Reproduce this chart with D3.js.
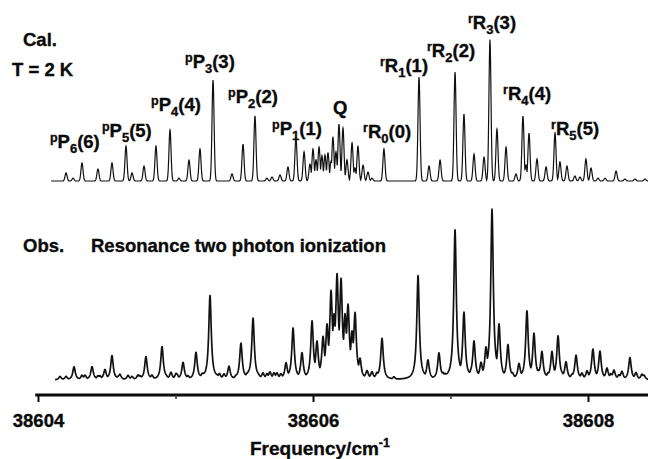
<!DOCTYPE html>
<html>
  <head>
    <meta charset="utf-8" />
    <title>Cal. vs Obs. spectrum</title>
    <style>
      body {
        margin: 0;
        background: #fff;
      }
      svg {
        display: block;
      }
      text {
        font-family: "Liberation Sans", Arial, sans-serif;
        font-weight: bold;
        fill: #0a0a0a;
        stroke: #0a0a0a;
        stroke-width: 0.35px;
      }
    </style>
    <script src="https://d3js.org/d3.v7.min.js"></script>
  </head>
  <body>
    <svg id="chart" width="648" height="459"></svg>
    <script>
      // calculated lines (T = 2 K), frequency in cm-1 and relative intensity
      const calFreq = [
        38604.204, 38604.255, 38604.320, 38604.436, 38604.538, 38604.640, 38604.684, 38604.771,
        38604.858, 38604.960, 38605.025, 38605.098, 38605.178, 38605.273, 38605.411, 38605.491,
        38605.578, 38605.665, 38605.702, 38605.760, 38605.818, 38605.876, 38605.935, 38605.978,
        38606.000, 38606.022, 38606.044, 38606.065, 38606.087, 38606.109, 38606.131, 38606.145,
        38606.167, 38606.189, 38606.218, 38606.247, 38606.284, 38606.305, 38606.327, 38606.364,
        38606.400, 38606.429, 38606.516, 38606.771, 38606.844, 38606.924, 38607.033, 38607.098,
        38607.171, 38607.244, 38607.287, 38607.338, 38607.404, 38607.476, 38607.527, 38607.549,
        38607.571, 38607.629, 38607.695, 38607.760, 38607.796, 38607.847, 38607.905, 38607.942,
        38607.985, 38608.022, 38608.073, 38608.124, 38608.204, 38608.269, 38608.342, 38608.415
      ];
      const calInt = [
        5.7, 2, 12.8, 8.5, 12.8, 24.8, 5.7, 10.6,
        24.8, 36.2, 2, 14.9, 22.7, 71.6, 5, 26.2,
        46.1, 2, 2.8, 4.3, 9.9, 30.5, 20.6, 12,
        22.7, 15, 24.1, 18, 18.4, 20, 14, 31.2,
        20.6, 40.4, 37.6, 14.9, 27, 9.2, 24.8, 11.3,
        6.4, 2, 22.7, 73.8, 10.6, 14.9, 77.3, 47.5,
        19.1, 17, 100, 36.9, 24.1, 5, 46.1, 11.3,
        34, 15.6, 9.9, 34, 13.5, 10.6, 3.5, 2.8,
        15.6, 9.2, 2, 2, 7.1, 1.4, 1.4, 1.4
      ];

      const obsFreq = [
        38604.262, 38604.393, 38604.487, 38604.538, 38604.684, 38604.785, 38604.902, 38604.967,
        38605.055, 38605.149, 38605.251, 38605.389, 38605.476, 38605.564, 38605.636, 38605.687,
        38605.738, 38605.804, 38605.855, 38605.920, 38605.993, 38606.029, 38606.073, 38606.102,
        38606.131, 38606.153, 38606.175, 38606.204, 38606.233, 38606.255, 38606.284, 38606.306,
        38606.342, 38606.393, 38606.429, 38606.465, 38606.502, 38606.764, 38606.836, 38606.916,
        38607.033, 38607.098, 38607.171, 38607.222, 38607.258, 38607.302, 38607.353, 38607.418,
        38607.498, 38607.556, 38607.607, 38607.665, 38607.738, 38607.782, 38607.840, 38607.913,
        38607.993, 38608.036, 38608.087, 38608.138, 38608.189, 38608.247, 38608.305, 38608.349,
        38604.160, 38604.320, 38604.451, 38604.596, 38604.727, 38605.004, 38605.193, 38605.320,
        38605.531, 38605.600, 38606.589, 38606.945, 38607.149, 38607.451, 38607.640, 38607.811,
        38607.956, 38608.167, 38608.225, 38608.392,
        38604.204, 38604.342, 38604.436, 38604.582, 38604.655, 38604.742, 38604.829, 38604.931,
        38605.011, 38605.091, 38605.200, 38605.302, 38605.353, 38605.440, 38605.520, 38605.665,
        38605.716, 38605.767, 38606.960, 38607.709, 38607.884, 38608.029, 38608.407
      ];
      const obsInt = [
        7.7, 7.7, 5.9, 14.2, 1.8, 13.6, 19.5, 4.1,
        10.1, 16, 49.7, 7.7, 21.3, 36.1, 3.5, 4.1,
        3.5, 9.5, 30.2, 15.4, 33.7, 21, 23, 29,
        48, 31, 57, 55, 33, 40, 24, 37,
        11, 4.7, 4.1, 3.5, 24.3, 61.5, 11.2, 15.4,
        88.2, 39, 21.9, 8.9, 17.2, 100, 31.4, 20.1,
        8.9, 40.2, 26.6, 16, 16, 25.4, 10.1, 14.2,
        4.7, 17.2, 16.6, 6.5, 5.3, 4.7, 13, 4.1,
        2, 2.5, 2, 3, 2.5, 3, 2.5, 3,
        3, 2.5, 1.5, 3, 4, 3, 4, 3,
        3.5, 3, 2.5, 3,
        2, 2.5, 2, 1.5, 2.5, 2, 2.5, 2,
        2.5, 2, 2.5, 2, 3, 2, 2.5, 3,
        3.5, 3, 2.5, 3, 2.5, 3, 2.5
      ];

      // branch labels
      const labelSup = ["p", "p", "p", "p", "p", "p", "", "r", "r", "r", "r", "r", "r"];
      const labelMain = ["P", "P", "P", "P", "P", "P", "Q", "R", "R", "R", "R", "R", "R"];
      const labelSub = ["6", "5", "4", "3", "2", "1", "", "0", "1", "2", "3", "4", "5"];
      const labelJ = ["(6)", "(5)", "(4)", "(3)", "(2)", "(1)", "", "(0)", "(1)", "(2)", "(3)", "(4)", "(5)"];
      const labelFreq = [
        38604.087, 38604.465, 38604.822, 38605.069, 38605.382, 38605.702, 38606.145,
        38606.364, 38606.487, 38606.829, 38607.127, 38607.382, 38607.731
      ];
      const labelLevel = [23.4, 31.2, 49.6, 80.1, 55.3, 32.6, 47.5, 30.5, 77.3, 87.9, 107.8, 57.4, 32.6];

      const majorTicks = [38604, 38606, 38608];
      const minorTicks = [38605, 38607];
      const axisStart = 38603.98, axisEnd = 38608.45;
      const calStart = 38604.095, obsStart = 38604.124;

      const svg = d3.select("#chart");

      const x = d3.scaleLinear().domain([38604, 38608]).range([38, 588]);
      const yCal = d3.scaleLinear().domain([0, 100]).range([181, 40]);
      const yObs = d3.scaleLinear().domain([0, 100]).range([380, 211]);

      // line shapes: narrow gaussian for the calculation, lorentzian for the experiment
      // overlap = share of the neighbouring lines' wings added on top of the strongest line
      function profile(freqs, ints, start, end, shape, overlap) {
        let pts = d3.range(start, end, 0.002).concat(freqs.filter(f => f > start && f < end));
        pts.sort((a, b) => a - b);
        return pts.map(f => {
          let mx = 0, sum = 0;
          for (let i = 0; i < freqs.length; i++) {
            const v = ints[i] * shape(f - freqs[i]);
            sum += v;
            if (v > mx) mx = v;
          }
          return [f, mx + overlap * (sum - mx)];
        });
      }
      const gauss = d => Math.exp(-0.5 * (d / 0.0075) * (d / 0.0075));
      const lorentz = d => 1 / (1 + (d / 0.011) * (d / 0.011));

      const calData = profile(calFreq, calInt, calStart, axisEnd, gauss, 0);
      const obsData = profile(obsFreq, obsInt, obsStart, axisEnd, lorentz, 0.3);

      svg.append("path")
        .datum(calData)
        .attr("fill", "none")
        .attr("stroke", "#111")
        .attr("stroke-width", 1.2)
        .attr("d", d3.line().x(d => x(d[0])).y(d => yCal(d[1])));

      svg.append("path")
        .datum(obsData)
        .attr("fill", "none")
        .attr("stroke", "#111")
        .attr("stroke-width", 1.7)
        .attr("stroke-linejoin", "round")
        .attr("d", d3.line().x(d => x(d[0])).y(d => yObs(d[1])));

      // x axis
      const axisY = 395;
      const axisG = svg.append("g").attr("transform", "translate(0," + axisY + ")");
      axisG.append("line")
        .attr("x1", x(axisStart)).attr("x2", x(axisEnd))
        .attr("stroke", "#0a0a0a").attr("stroke-width", 3);
      axisG.append("g")
        .call(d3.axisBottom(x).tickValues(minorTicks).tickSize(4).tickFormat(""))
        .call(g => g.select(".domain").remove())
        .call(g => g.selectAll("line").attr("stroke", "#333").attr("stroke-width", 1.5));
      axisG.append("g")
        .call(d3.axisBottom(x).tickValues(majorTicks).tickSize(7).tickPadding(12).tickFormat(d3.format("d")))
        .call(g => g.select(".domain").remove())
        .call(g => g.selectAll("line").attr("stroke", "#0a0a0a").attr("stroke-width", 2))
        .call(g => g.selectAll("text")
          .attr("font-size", 18.5)
          .attr("font-family", "Liberation Sans, Arial, sans-serif")
          .attr("font-weight", "bold")
          .attr("fill", "#0a0a0a"));

      const xt = svg.append("text")
        .attr("x", 320).attr("y", 455)
        .attr("text-anchor", "middle")
        .attr("font-size", 19);
      xt.append("tspan").text("Frequency/cm");
      xt.append("tspan").attr("font-size", 12.5).attr("dy", -8).text("-1");

      // panel titles
      svg.append("text").attr("x", 23).attr("y", 46).attr("font-size", 18.5).text("Cal.");
      svg.append("text").attr("x", 12).attr("y", 76).attr("font-size", 18.5).text("T = 2 K");
      svg.append("text").attr("x", 23).attr("y", 252).attr("font-size", 18.5).text("Obs.");
      svg.append("text").attr("x", 91).attr("y", 252).attr("font-size", 18.5)
        .text("Resonance two photon ionization");

      // branch labels
      labelMain.forEach((m, i) => {
        const t = svg.append("text")
          .attr("x", x(labelFreq[i]))
          .attr("y", yCal(labelLevel[i]))
          .attr("font-size", 18.5);
        if (labelSup[i]) {
          t.append("tspan").attr("font-size", 12.5).attr("dy", -6).text(labelSup[i]);
          t.append("tspan").attr("dy", 6).text(m);
        } else {
          t.append("tspan").text(m);
        }
        if (labelSub[i]) {
          t.append("tspan").attr("font-size", 13).attr("dy", 5).text(labelSub[i]);
          t.append("tspan").attr("dy", -5).text(labelJ[i]);
        }
      });
    </script>
  </body>
</html>
